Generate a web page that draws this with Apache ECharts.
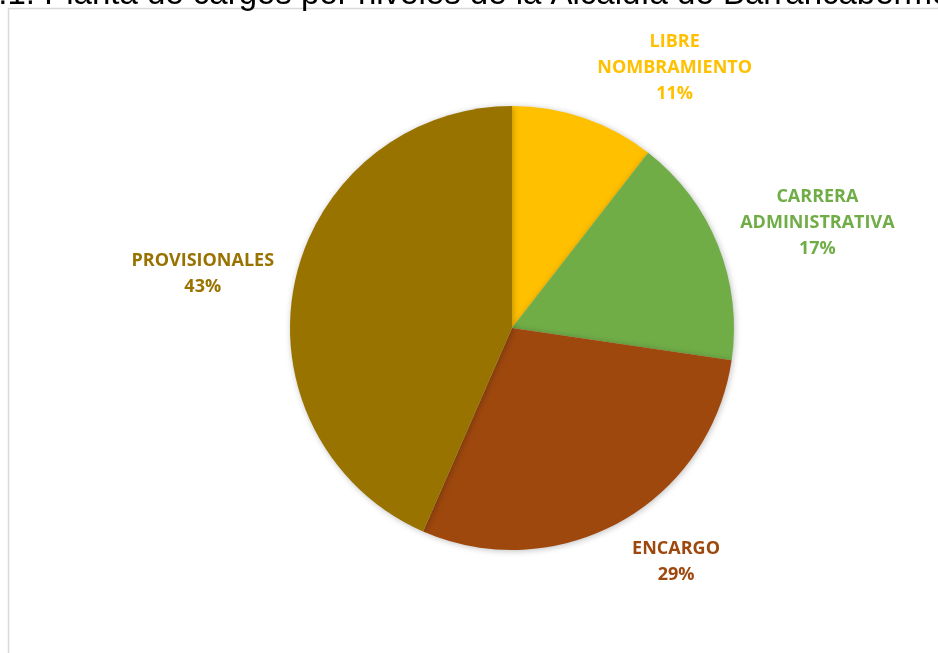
<!DOCTYPE html>
<html>
<head>
<meta charset="utf-8">
<script src="https://cdn.jsdelivr.net/npm/echarts@6/dist/echarts.min.js"></script>
<style>
html,body{margin:0;padding:0;background:#fff;}
#chart{width:938px;height:653px;}
</style>
</head>
<body>
<div id="chart"></div>
<script>
const titleText = '1.1. Planta de cargos por niveles de la Alcaldía de Barrancabermeja';
const categories = ['LIBRE\nNOMBRAMIENTO', 'CARRERA\nADMINISTRATIVA', 'ENCARGO', 'PROVISIONALES'];
const values = [10.5, 16.8, 29.2, 43.4];
const colors = ['#FFC000', '#70AD47', '#9E480E', '#997300'];

// label placement (angle from 12 o'clock in degrees, distance from centre in px)
const labelAngles = [32, 71, 145, 280];
const labelDist = [307, 323, 286, 314];
const cx = 512, cy = 328;

const chart = echarts.init(document.getElementById('chart'));
chart.setOption({
  animation: false,
  backgroundColor: '#ffffff',
  title: {
    text: titleText,
    left: -20,
    top: -22,
    padding: 0,
    textStyle: {fontFamily: 'Liberation Sans', fontSize: 33, fontWeight: 'normal', color: '#000'}
  },
  graphic: [{
    type: 'rect',
    shape: {x: 8.5, y: 8.5, width: 1200, height: 1000},
    style: {fill: 'none', stroke: '#d9d9d9', lineWidth: 1.5},
    z: -1
  }],
  series: [{
    type: 'pie',
    center: [cx, cy],
    radius: 222,
    startAngle: 90,
    clockwise: true,
    itemStyle: {shadowBlur: 6, shadowColor: 'rgba(0,0,0,0.25)', shadowOffsetX: 1, shadowOffsetY: 1},
    label: {
      show: true,
      position: 'outside',
      formatter: p => p.name + '\n' + Math.round(p.value) + '%',
      fontFamily: 'Open Sans',
      fontWeight: 'bold',
      fontSize: 18,
      lineHeight: 26,
      align: 'center'
    },
    labelLine: {show: false},
    labelLayout: p => {
      const a = labelAngles[p.dataIndex] * Math.PI / 180;
      const d = labelDist[p.dataIndex];
      return {
        x: cx + d * Math.sin(a),
        y: cy - d * Math.cos(a),
        align: 'center',
        verticalAlign: 'middle'
      };
    },
    data: categories.map((c, i) => ({
      name: c,
      value: values[i],
      itemStyle: {color: colors[i]},
      label: {color: colors[i]}
    }))
  }]
});
</script>
</body>
</html>
